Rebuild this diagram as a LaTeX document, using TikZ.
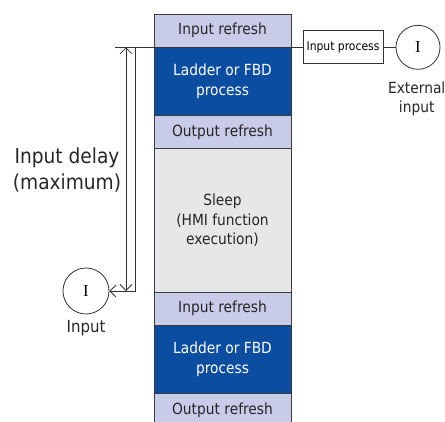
\documentclass[tikz,border=0pt]{standalone}
\usepackage{fontspec}
\setmainfont{DejaVu Sans Condensed}
\newfontfamily\symfont{Liberation Serif}
\usetikzlibrary{arrows.meta,positioning}
\definecolor{plcblue}{HTML}{0B4DA0}
\definecolor{plclav}{HTML}{C9CCE8}
\definecolor{plcgray}{HTML}{E7E7E9}
\definecolor{plcline}{HTML}{3C3C3C}

\begin{document}
\begin{tikzpicture}[
  x=0.75pt, y=-0.75pt,
  node distance=0pt,
  cyc/.style={
    draw=plcline, line width=0.75pt, inner sep=0pt, outer sep=0pt,
    minimum width=102.75pt, align=center, text=black!85,
    font=\fontsize{11.5}{14.5}\selectfont
  },
  refresh/.style={cyc, fill=plclav, minimum height=25pt},
  ladder/.style={cyc, fill=plcblue, text=white, minimum height=51pt},
  sleepbox/.style={cyc, fill=plcgray, minimum height=107.5pt},
  sigcirc/.style={circle, draw=black!80, line width=0.6pt, inner sep=0pt,
    font=\symfont\fontsize{12.5}{12.5}\selectfont},
  label/.style={font=\fontsize{12.5}{14.5}\selectfont, text=black!85,
    align=center, inner sep=1pt},
  wire/.style={draw=black!80, line width=0.6pt},
  barb/.tip={Straight Barb[length=4.5pt, width=9pt]},
  arrow/.style={wire, -barb},
]
  \useasboundingbox (0,0) rectangle (445,421);

  % Zyklus: Bloecke untereinander
  \node[refresh] (inref1) at (222.5,30.67) {Input refresh};
  \node[ladder, below=of inref1] (ladder1) {Ladder or FBD\\process};
  \node[refresh, below=of ladder1] (outref1) {Output refresh};
  \node[sleepbox, below=of outref1] (sleep) {Sleep\\(HMI function\\execution)};
  \node[refresh, below=of sleep] (inref2) {Input refresh};
  \node[ladder, below=of inref2] (ladder2) {Ladder or FBD\\process};
  \node[refresh, below=of ladder2] (outref2) {Output refresh};

  % Externer Eingang (rechts)
  \node[draw=black!80, line width=0.6pt, minimum width=60pt, minimum height=24.75pt,
    inner sep=1pt, font=\fontsize{9}{11}\selectfont] (inproc) at (343,47.3) {Input process};
  \node[sigcirc, minimum size=33pt] (extin) at (418,47.3) {I};
  \node[label, font=\fontsize{11.5}{14.5}\selectfont, below=8pt of extin,
    xshift=-1pt] (extlbl) {External\\input};

  % Eingang (links)
  \node[sigcirc, minimum size=34.5pt] (inpt) at (86,291) {I};
  \node[label, below=3pt of inpt] (inlbl) {Input};

  \node[label, font=\fontsize{15.5}{19.5}\selectfont] (delay) at (67,170)
    {Input delay\\(maximum)};

  % Verbindungen
  \coordinate (tap) at (115,47.3);
  \coordinate (dtop) at (126,47.3);
  \coordinate (dbot) at (126,291);
  \coordinate (vtop) at (135.5,47.3);

  \draw[wire] (tap) -- (inproc.west);
  \draw[wire] (inproc.east) -- (extin.west);
  \draw[wire, barb-barb] (dtop) -- (dbot);
  \draw[arrow] (vtop) |- (inpt.east);

\end{tikzpicture}
\end{document}
